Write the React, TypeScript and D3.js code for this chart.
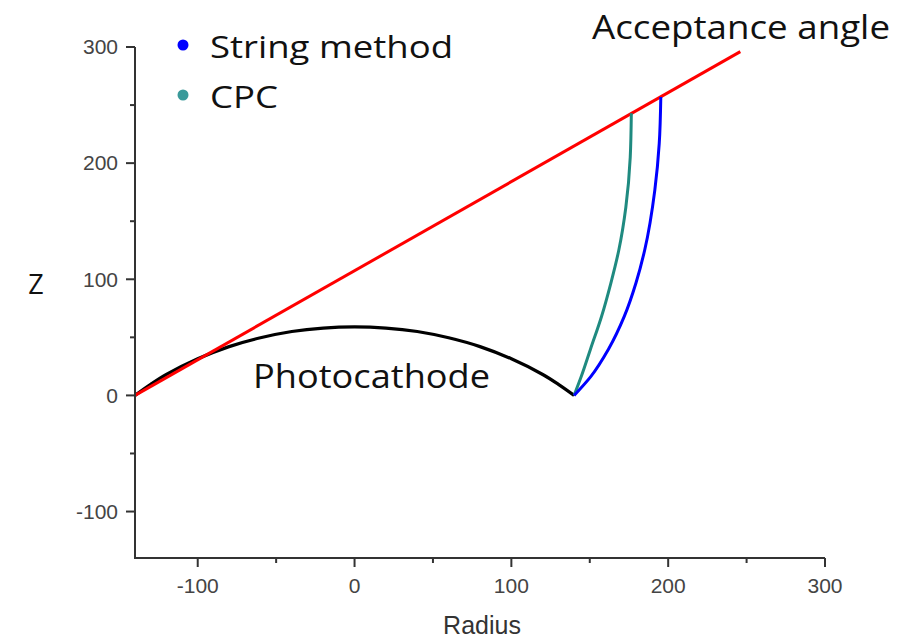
import React from 'react';
import * as d3 from 'd3';

// Photocathode profile (radius, z)
const photoR = [-140, -130, -120, -100, -80, -60, -40, -20, 0, 20, 40, 60, 80, 100, 120, 130, 140];
const photoZ = [0, 9.5, 18, 31.5, 42, 49.6, 55, 58, 59, 58, 55, 49.6, 42, 31.5, 18, 9.5, 0];

// String method reflector
const stringR = [140, 150.5, 162, 172, 179.5, 185, 191.5, 194.3, 195.3];
const stringZ = [0, 16, 40, 68, 97, 125, 177, 217, 257];

// CPC reflector
const cpcR = [140, 144.5, 150.5, 157.5, 163.5, 168.5, 173, 175.8, 176.5];
const cpcZ = [0, 16, 40, 68, 97, 125, 162, 205, 243];

// acceptance angle line
const lineR = [-140, 246];
const lineZ = [0, 296];

const majorTicks = [-100, 0, 100, 200, 300];
const minorTicks = [-50, 50, 150, 250];

const width = 910;
const height = 638;

export default function App() {
  const x = d3.scaleLinear().domain([-140, 300]).range([135, 825]);
  const y = d3.scaleLinear().domain([-140, 300]).range([558, 47]);

  const arc = d3.line<[number, number]>()
    .x(d => x(d[0]))
    .y(d => y(d[1]))
    .curve(d3.curveCatmullRom);

  const mirror = d3.line<[number, number]>()
    .x(d => x(d[0]))
    .y(d => y(d[1]))
    .curve(d3.curveMonotoneY);

  const straight = d3.line<[number, number]>()
    .x(d => x(d[0]))
    .y(d => y(d[1]));

  const zip = (a: number[], b: number[]) => a.map((v, i) => [v, b[i]] as [number, number]);

  const tickFont = { fontFamily: 'Liberation Sans, Arial, sans-serif', fontSize: 21, fill: '#444' };
  const bigFont = { fontFamily: 'Open Sans, sans-serif', fill: '#111' };

  return (
    <svg width={width} height={height} style={{ position: 'absolute', left: 0, top: 0 }}>
      {/* curves */}
      <path d={arc(zip(photoR, photoZ)) || ''} fill="none" stroke="#000" strokeWidth={3.2} />
      <path d={straight(zip(lineR, lineZ)) || ''} fill="none" stroke="#ff0000" strokeWidth={3} />
      <path d={mirror(zip(cpcR, cpcZ)) || ''} fill="none" stroke="#1f8a80" strokeWidth={3} />
      <path d={mirror(zip(stringR, stringZ)) || ''} fill="none" stroke="#0000ff" strokeWidth={3} />

      {/* axes */}
      <path d={`M${x(-140)},${y(300)}V${y(-140)}H${x(300)}`} fill="none" stroke="#333" strokeWidth={2} />
      {majorTicks.map(t => (
        <g key={'y' + t}>
          <line x1={x(-140) - 9} x2={x(-140)} y1={y(t)} y2={y(t)} stroke="#333" strokeWidth={2} />
          <text x={x(-140) - 17} y={y(t)} dy="0.35em" textAnchor="end" style={tickFont}>{t}</text>
        </g>
      ))}
      {minorTicks.map(t => (
        <line key={'ym' + t} x1={x(-140) - 5} x2={x(-140)} y1={y(t)} y2={y(t)} stroke="#333" strokeWidth={2} />
      ))}
      {majorTicks.map(t => (
        <g key={'x' + t}>
          <line x1={x(t)} x2={x(t)} y1={y(-140)} y2={y(-140) + 9} stroke="#333" strokeWidth={2} />
          <text x={x(t)} y={593} textAnchor="middle" style={tickFont}>{t}</text>
        </g>
      ))}
      {minorTicks.map(t => (
        <line key={'xm' + t} x1={x(t)} x2={x(t)} y1={y(-140)} y2={y(-140) + 5} stroke="#333" strokeWidth={2} />
      ))}
      <text x={482} y={634} textAnchor="middle" style={{ ...tickFont, fontSize: 25, fill: '#333' }}>Radius</text>
      <text x={36} y={294} textAnchor="middle" style={{ ...bigFont, fontSize: 27 }}>Z</text>

      {/* legend */}
      <circle cx={183} cy={45} r={5.5} fill="#0000ff" />
      <text x={210} y={58} textLength={243} lengthAdjust="spacingAndGlyphs" style={{ ...bigFont, fontSize: 31 }}>String method</text>
      <circle cx={183} cy={95} r={5.5} fill="#3a9a9a" />
      <text x={210} y={108} textLength={68} lengthAdjust="spacingAndGlyphs" style={{ ...bigFont, fontSize: 31 }}>CPC</text>

      {/* annotations */}
      <text x={592} y={39} textLength={298} lengthAdjust="spacingAndGlyphs" style={{ ...bigFont, fontSize: 32 }}>Acceptance angle</text>
      <text x={253} y={388} textLength={237} lengthAdjust="spacingAndGlyphs" style={{ ...bigFont, fontSize: 32 }}>Photocathode</text>
    </svg>
  );
}
